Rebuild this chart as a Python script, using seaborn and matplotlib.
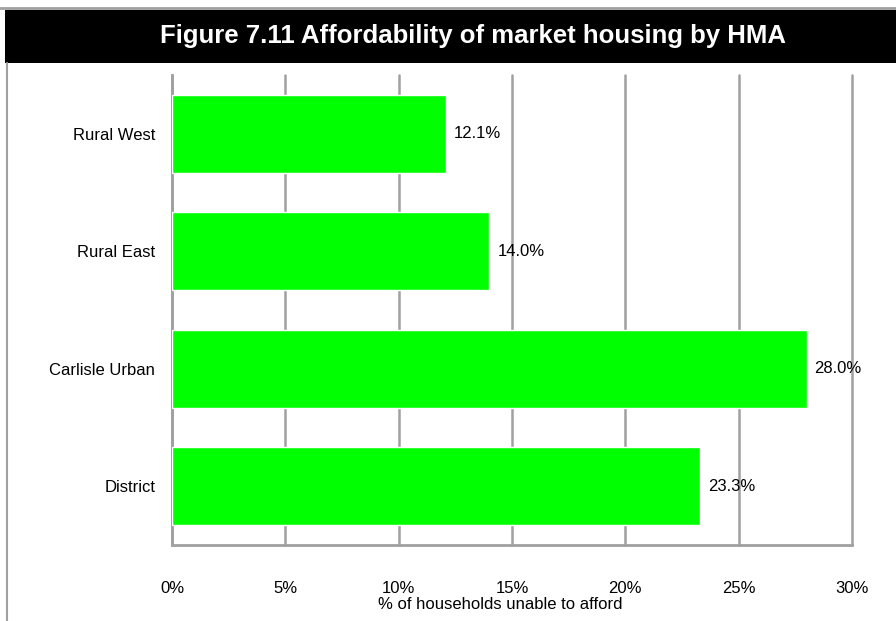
"""
Seaborn: horizontal bar chart of affordability by HMA
"""
import pandas as pd
import seaborn as sns
import matplotlib.pyplot as plt
from matplotlib.patches import Rectangle
from matplotlib.lines import Line2D

areas = ["Rural West", "Rural East", "Carlisle Urban", "District"]
unable_pct = [12.1, 14.0, 28.0, 23.3]
x_ticks = [0, 5, 10, 15, 20, 25, 30]

df = pd.DataFrame({"area": areas, "pct": unable_pct})

sns.set_style("white")
plt.rcParams["font.family"] = ["Liberation Sans", "DejaVu Sans"]
plt.rcParams["text.color"] = "black"
plt.rcParams["axes.labelcolor"] = "black"
plt.rcParams["xtick.labelcolor"] = "black"
plt.rcParams["ytick.labelcolor"] = "black"

grey = "#a0a0a0"
fs = 12
fig = plt.figure(figsize=(8.96, 6.21), dpi=100)

# title banner
fig.patches.append(Rectangle((5 / 896, 1 - 63 / 621), 1, 53 / 621, transform=fig.transFigure,
                             facecolor="black", edgecolor="none", zorder=0))
fig.lines.append(Line2D([0, 1], [1 - 8 / 621, 1 - 8 / 621], transform=fig.transFigure,
                        color=grey, lw=2))
fig.lines.append(Line2D([7 / 896, 7 / 896], [0, 1 - 63 / 621], transform=fig.transFigure,
                        color=grey, lw=1.5))
fig.text(0.528, 1 - 36 / 621, "Figure 7.11 Affordability of market housing by HMA",
         color="white", fontsize=18.5, fontweight="bold", ha="center", va="center")

ax = fig.add_axes([172 / 896, 76 / 621, 680 / 896, 470 / 621])
sns.barplot(data=df, y="area", x="pct", orient="h", color="#00ff00",
            saturation=1, width=0.66, ax=ax, zorder=3)

ax.set_xlim(0, 30)
ax.set_ylim(3.5, -0.5)
ax.set_xticks(x_ticks)
ax.set_xticklabels([f"{t}%" for t in x_ticks], fontsize=fs)
ax.tick_params(axis="x", pad=20, length=6, width=1.5, color=grey, direction="out")
ax.set_yticks(range(len(areas)))
ax.set_yticklabels(areas, fontsize=fs)
ax.tick_params(axis="y", length=0, pad=12)
ax.set_yticks([i - 0.5 for i in range(len(areas) + 1)], minor=True)
ax.tick_params(axis="y", which="minor", length=6, width=1.5, color=grey)

ax.grid(axis="x", color=grey, lw=1.8, zorder=0)
for gl in ax.get_xgridlines():
    gl.set_clip_on(False)
ax.set_axisbelow(True)
for side in ["top", "right"]:
    ax.spines[side].set_visible(False)
for side in ["left", "bottom"]:
    ax.spines[side].set_color(grey)
    ax.spines[side].set_linewidth(2)

ax.set_ylabel("")
ax.set_xlabel("% of households unable to afford", fontsize=fs)
ax.xaxis.set_label_coords(0.482, -0.11)

for i, v in enumerate(unable_pct):
    ax.text(v + 0.35, i, f"{v:.1f}%", va="center", ha="left", fontsize=fs, zorder=4)

fig.savefig("out.png", dpi=100)
